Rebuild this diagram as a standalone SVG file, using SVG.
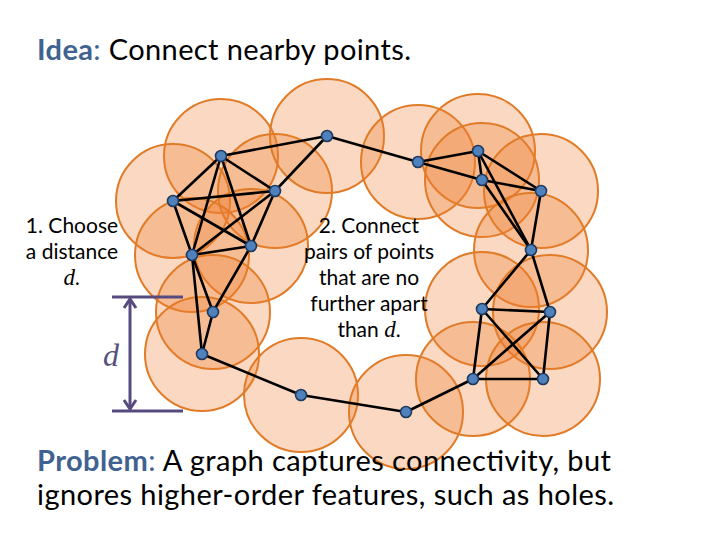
<svg xmlns="http://www.w3.org/2000/svg" width="720" height="540" viewBox="0 0 720 540">
<defs>
<style>
.disk{fill:#ED7D31;fill-opacity:0.3;stroke:#E07B28;stroke-width:2}
.edge{stroke:#000;stroke-width:2.6;stroke-linecap:round}
.pt{fill:#4F81BD;stroke:#1F3A5F;stroke-width:1.6}
.t{font-family:Lato,"Liberation Sans",sans-serif;fill:#000}
.blue{fill:#3F6290}
.math{font-family:"Liberation Serif",serif;font-style:italic}
.dim{stroke:#574A7F;stroke-width:3;fill:none}
</style>
</defs>
<rect width="720" height="540" fill="#fff"/>
<text class="t" x="37" y="60" font-size="29" textLength="374"><tspan class="blue" font-weight="bold">Idea</tspan><tspan class="blue">:</tspan> Connect nearby points.</text>
<g id="disks">
<circle class="disk" cx="221" cy="156" r="57"/>
<circle class="disk" cx="173" cy="201" r="57"/>
<circle class="disk" cx="275" cy="191" r="57"/>
<circle class="disk" cx="327" cy="136" r="57"/>
<circle class="disk" cx="251" cy="246" r="57"/>
<circle class="disk" cx="192" cy="255" r="57"/>
<circle class="disk" cx="213" cy="312" r="57"/>
<circle class="disk" cx="202" cy="354" r="57"/>
<circle class="disk" cx="301" cy="395" r="57"/>
<circle class="disk" cx="406" cy="412" r="57"/>
<circle class="disk" cx="418" cy="162" r="57"/>
<circle class="disk" cx="478" cy="151" r="57"/>
<circle class="disk" cx="482" cy="180" r="57"/>
<circle class="disk" cx="541" cy="191" r="57"/>
<circle class="disk" cx="531" cy="250" r="57"/>
<circle class="disk" cx="482" cy="309" r="57"/>
<circle class="disk" cx="550" cy="312" r="57"/>
<circle class="disk" cx="473" cy="379" r="57"/>
<circle class="disk" cx="543" cy="379" r="57"/>
</g>
<g id="connectors">
<line class="edge" x1="221" y1="156" x2="173" y2="201"/>
<line class="edge" x1="221" y1="156" x2="275" y2="191"/>
<line class="edge" x1="221" y1="156" x2="327" y2="136"/>
<line class="edge" x1="221" y1="156" x2="251" y2="246"/>
<line class="edge" x1="221" y1="156" x2="192" y2="255"/>
<line class="edge" x1="173" y1="201" x2="275" y2="191"/>
<line class="edge" x1="173" y1="201" x2="251" y2="246"/>
<line class="edge" x1="173" y1="201" x2="192" y2="255"/>
<line class="edge" x1="275" y1="191" x2="327" y2="136"/>
<line class="edge" x1="275" y1="191" x2="251" y2="246"/>
<line class="edge" x1="275" y1="191" x2="192" y2="255"/>
<line class="edge" x1="251" y1="246" x2="192" y2="255"/>
<line class="edge" x1="251" y1="246" x2="213" y2="312"/>
<line class="edge" x1="192" y1="255" x2="213" y2="312"/>
<line class="edge" x1="192" y1="255" x2="202" y2="354"/>
<line class="edge" x1="213" y1="312" x2="202" y2="354"/>
<line class="edge" x1="202" y1="354" x2="301" y2="395"/>
<line class="edge" x1="301" y1="395" x2="406" y2="412"/>
<line class="edge" x1="406" y1="412" x2="473" y2="379"/>
<line class="edge" x1="327" y1="136" x2="418" y2="162"/>
<line class="edge" x1="418" y1="162" x2="478" y2="151"/>
<line class="edge" x1="418" y1="162" x2="482" y2="180"/>
<line class="edge" x1="478" y1="151" x2="482" y2="180"/>
<line class="edge" x1="478" y1="151" x2="541" y2="191"/>
<line class="edge" x1="482" y1="180" x2="541" y2="191"/>
<line class="edge" x1="478" y1="151" x2="531" y2="250"/>
<line class="edge" x1="482" y1="180" x2="531" y2="250"/>
<line class="edge" x1="541" y1="191" x2="531" y2="250"/>
<line class="edge" x1="531" y1="250" x2="482" y2="309"/>
<line class="edge" x1="531" y1="250" x2="550" y2="312"/>
<line class="edge" x1="482" y1="309" x2="550" y2="312"/>
<line class="edge" x1="482" y1="309" x2="473" y2="379"/>
<line class="edge" x1="482" y1="309" x2="543" y2="379"/>
<line class="edge" x1="550" y1="312" x2="473" y2="379"/>
<line class="edge" x1="550" y1="312" x2="543" y2="379"/>
<line class="edge" x1="473" y1="379" x2="543" y2="379"/>
</g>
<g id="n1"><circle class="pt" cx="221" cy="156" r="5.5"/></g>
<g id="n2"><circle class="pt" cx="173" cy="201" r="5.5"/></g>
<g id="n3"><circle class="pt" cx="275" cy="191" r="5.5"/></g>
<g id="n4"><circle class="pt" cx="327" cy="136" r="5.5"/></g>
<g id="n5"><circle class="pt" cx="251" cy="246" r="5.5"/></g>
<g id="n6"><circle class="pt" cx="192" cy="255" r="5.5"/></g>
<g id="n7"><circle class="pt" cx="213" cy="312" r="5.5"/></g>
<g id="n8"><circle class="pt" cx="202" cy="354" r="5.5"/></g>
<g id="n9"><circle class="pt" cx="301" cy="395" r="5.5"/></g>
<g id="n10"><circle class="pt" cx="406" cy="412" r="5.5"/></g>
<g id="n11"><circle class="pt" cx="418" cy="162" r="5.5"/></g>
<g id="n12"><circle class="pt" cx="478" cy="151" r="5.5"/></g>
<g id="n13"><circle class="pt" cx="482" cy="180" r="5.5"/></g>
<g id="n14"><circle class="pt" cx="541" cy="191" r="5.5"/></g>
<g id="n15"><circle class="pt" cx="531" cy="250" r="5.5"/></g>
<g id="n16"><circle class="pt" cx="482" cy="309" r="5.5"/></g>
<g id="n17"><circle class="pt" cx="550" cy="312" r="5.5"/></g>
<g id="n18"><circle class="pt" cx="473" cy="379" r="5.5"/></g>
<g id="n19"><circle class="pt" cx="543" cy="379" r="5.5"/></g>
<g id="label-choose" font-size="21" text-anchor="middle">
<text class="t" x="72" y="233">1. Choose</text>
<text class="t" x="72" y="259">a distance</text>
<text class="math" x="72" y="285" font-size="23">d.</text>
</g>
<g id="label-connect" font-size="21" text-anchor="middle">
<text class="t" x="369" y="233">2. Connect</text>
<text class="t" x="369" y="259">pairs of points</text>
<text class="t" x="369" y="285">that are no</text>
<text class="t" x="369" y="311">further apart</text>
<text class="t" x="369" y="337">than <tspan class="math" font-size="23">d</tspan>.</text>
</g>
<g id="dimension">
<line class="dim" x1="112" y1="297" x2="183" y2="297"/>
<line class="dim" x1="112" y1="411" x2="183" y2="411"/>
<line class="dim" x1="130" y1="299" x2="130" y2="409"/>
<polyline class="dim" points="124,308 130,299 136,308"/>
<polyline class="dim" points="124,400 130,409 136,400"/>
<text class="math" x="103" y="366" font-size="32" fill="#55507D">d</text>
</g>
<text class="t" x="37" y="471" font-size="29" textLength="574"><tspan class="blue" font-weight="bold">Problem</tspan><tspan class="blue">:</tspan> A graph captures connectivity, but</text>
<text class="t" x="37" y="505" font-size="29" textLength="577">ignores higher-order features, such as holes.</text>
</svg>
